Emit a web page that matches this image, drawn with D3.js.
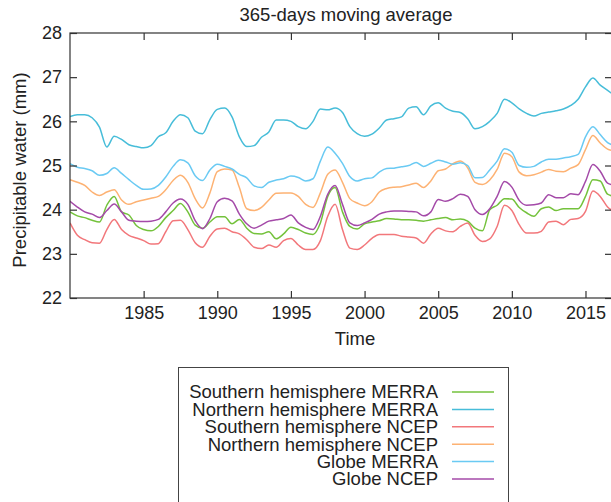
<!DOCTYPE html>
<html>
<head>
<meta charset="utf-8">
<script src="https://cdn.jsdelivr.net/npm/d3@7"></script>
<style>
  body { margin: 0; background: #fff; }
  svg { display: block; font-family: "Liberation Sans", Arial, sans-serif; }
  text { fill: #222; }
</style>
</head>
<body>
<svg id="chart" width="611" height="502"></svg>
<script>
const years = [
  1980, 1980.5, 1981, 1981.5, 1982, 1982.5, 1983, 1983.5, 1984, 1984.5,
  1985, 1985.5, 1986, 1986.5, 1987, 1987.5, 1988, 1988.5, 1989, 1989.5,
  1990, 1990.5, 1991, 1991.5, 1992, 1992.5, 1993, 1993.5, 1994, 1994.5,
  1995, 1995.5, 1996, 1996.5, 1997, 1997.5, 1998, 1998.5,
  1999, 1999.5, 2000, 2000.5, 2001, 2001.5, 2002, 2002.5, 2003, 2003.5,
  2004, 2004.5, 2005, 2005.5, 2006, 2006.5, 2007, 2007.5,
  2008, 2008.5, 2009, 2009.5, 2010, 2010.5, 2011, 2011.5, 2012, 2012.5,
  2013, 2013.5, 2014, 2014.5, 2015, 2015.5, 2016, 2016.5, 2017
];

const shMerra = [
  23.95, 23.86, 23.82, 23.76, 23.72, 24.10, 24.30, 23.95, 23.88, 23.64,
  23.55, 23.52, 23.62, 23.82, 23.98, 24.14, 23.95, 23.65, 23.58, 23.72,
  23.84, 23.84, 23.68, 23.78, 23.58, 23.46, 23.45, 23.50, 23.34, 23.45,
  23.60, 23.55, 23.47, 23.44, 23.70, 24.30, 24.50, 23.95,
  23.62, 23.56, 23.68, 23.72, 23.75, 23.80, 23.79, 23.77, 23.77, 23.76,
  23.74, 23.77, 23.80, 23.82, 23.77, 23.79, 23.74, 23.58,
  23.52, 24.00, 24.10, 24.25, 24.24, 24.05, 23.93, 23.85, 24.02, 24.06,
  23.98, 24.02, 24.02, 24.02, 24.30, 24.68, 24.65, 24.35, 24.30
];

const nhMerra = [
  26.11, 26.15, 26.15, 26.08, 25.87, 25.42, 25.66, 25.59, 25.47, 25.43,
  25.40, 25.45, 25.65, 25.74, 26.00, 26.15, 26.08, 25.78, 25.72, 26.04,
  26.27, 26.30, 26.10, 25.65, 25.43, 25.45, 25.64, 25.76, 26.03, 26.03,
  26.00, 25.88, 25.83, 26.00, 26.28, 26.26, 26.30, 26.20,
  25.88, 25.72, 25.66, 25.71, 25.85, 26.03, 26.06, 26.10, 26.30, 26.33,
  26.15, 26.35, 26.42, 26.30, 26.23, 26.20, 26.06, 25.83,
  25.88, 26.00, 26.18, 26.50, 26.42, 26.28, 26.18, 26.12, 26.18, 26.21,
  26.24, 26.28, 26.36, 26.50, 26.78, 26.98, 26.82, 26.70, 26.58
];

const shNcep = [
  23.70, 23.42, 23.32, 23.25, 23.24, 23.55, 23.78, 23.55, 23.42, 23.36,
  23.30, 23.22, 23.23, 23.50, 23.75, 23.76, 23.55, 23.25, 23.15, 23.40,
  23.56, 23.58, 23.50, 23.45, 23.32, 23.15, 23.12, 23.20, 23.15, 23.30,
  23.35, 23.20, 23.10, 23.10, 23.30, 23.85, 24.12, 23.55,
  23.13, 23.10, 23.20, 23.35, 23.44, 23.44, 23.44, 23.40, 23.38, 23.36,
  23.24, 23.45, 23.58, 23.52, 23.50, 23.62, 23.70, 23.42,
  23.28, 23.34, 23.62, 24.10, 23.98, 23.66, 23.47, 23.47, 23.51, 23.72,
  23.74, 23.66, 23.78, 23.80, 23.96, 24.42, 24.30, 24.06, 23.95
];

const nhNcep = [
  24.68, 24.62, 24.55, 24.40, 24.32, 24.40, 24.45, 24.22, 24.12, 24.18,
  24.22, 24.26, 24.30, 24.45, 24.66, 24.78, 24.62, 24.25, 24.04, 24.38,
  24.86, 24.92, 24.90, 24.50, 24.02, 23.98, 24.05, 24.22, 24.37, 24.38,
  24.38, 24.30, 24.12, 24.05, 24.38, 24.80, 24.90, 24.62,
  24.25, 24.15, 24.09, 24.18, 24.40, 24.48, 24.51, 24.52, 24.56, 24.60,
  24.50, 24.65, 24.88, 24.92, 25.04, 25.10, 24.95, 24.62,
  24.57, 24.67, 24.91, 25.28, 25.20, 24.85, 24.77, 24.79, 24.85, 24.91,
  24.87, 24.86, 24.94, 25.02, 25.36, 25.68, 25.51, 25.37, 25.33
];

const globeMerra = [
  25.04, 24.96, 24.93, 24.88, 24.78, 24.82, 24.95, 24.82, 24.68, 24.55,
  24.46, 24.47, 24.55, 24.74, 24.98, 25.13, 25.06, 24.77, 24.66, 24.90,
  25.03, 24.98, 24.92, 24.80, 24.72, 24.54, 24.50, 24.62, 24.67, 24.70,
  24.76, 24.73, 24.65, 24.70, 25.10, 25.42, 25.28, 25.05,
  24.75, 24.65, 24.70, 24.72, 24.85, 24.93, 24.94, 24.97, 25.00, 25.07,
  24.98, 25.05, 25.12, 25.08, 25.03, 25.06, 25.00, 24.72,
  24.73, 24.90, 25.10, 25.38, 25.30, 25.00, 24.96, 24.98, 25.08, 25.14,
  25.14, 25.17, 25.20, 25.25, 25.65, 25.88, 25.70, 25.52, 25.45
];

const globeNcep = [
  24.19, 24.06, 23.95, 23.90, 23.82, 23.98, 24.13, 23.95, 23.76, 23.74,
  23.73, 23.74, 23.78, 23.95, 24.15, 24.24, 24.12, 23.75, 23.57, 23.80,
  24.18, 24.26, 24.20, 23.90, 23.68, 23.58, 23.65, 23.74, 23.77, 23.80,
  23.88, 23.70, 23.60, 23.55, 23.85, 24.35, 24.55, 24.12,
  23.70, 23.64, 23.70, 23.78, 23.90, 23.95, 23.97, 23.97, 23.96, 23.95,
  23.86, 23.95, 24.23, 24.19, 24.25, 24.35, 24.30, 24.00,
  23.89, 24.02, 24.30, 24.64, 24.51, 24.21, 24.10, 24.11, 24.15, 24.34,
  24.27, 24.27, 24.36, 24.34, 24.64, 25.02, 24.87, 24.60, 24.55
];

const seriesNames = [
  'Southern hemisphere MERRA',
  'Northern hemisphere MERRA',
  'Southern hemisphere NCEP',
  'Northern hemisphere NCEP',
  'Globe MERRA',
  'Globe NCEP'
];
const seriesValues = [shMerra, nhMerra, shNcep, nhNcep, globeMerra, globeNcep];
const seriesColors = ['#74c23c', '#47bdd9', '#f2777b', '#fdb273', '#6acaf3', '#a44aa8'];

const xTicks = [1985, 1990, 1995, 2000, 2005, 2010, 2015];
const yTicks = [22, 23, 24, 25, 26, 27, 28];

const plotLeft = 70, plotRight = 612, plotTop = 33, plotBottom = 298;
const fontSize = 18.5;

const svg = d3.select('#chart');

const x = d3.scaleLinear().domain([1980, 2016.8]).range([plotLeft, plotRight]);
const y = d3.scaleLinear().domain([22, 28]).range([plotBottom, plotTop]);

svg.append('defs').append('clipPath').attr('id', 'plot-clip')
  .append('rect')
  .attr('x', plotLeft).attr('y', plotTop)
  .attr('width', plotRight - plotLeft).attr('height', plotBottom - plotTop);

// lines
const line = d3.line()
  .x((d, i) => x(years[i]))
  .y(d => y(d))
  .curve(d3.curveMonotoneX);

svg.append('g')
  .attr('clip-path', 'url(#plot-clip)')
  .selectAll('path')
  .data(seriesValues)
  .join('path')
  .attr('d', d => line(d))
  .attr('fill', 'none')
  .attr('stroke', (d, i) => seriesColors[i])
  .attr('stroke-width', 1.5)
  .attr('stroke-linejoin', 'round');

// axes (ticks point inward, mirrored on top/right)
const styleAxis = g => {
  g.select('.domain').remove();
  g.selectAll('.tick line').attr('stroke', '#333').attr('stroke-width', 1.2);
  g.selectAll('.tick text').attr('font-size', 18).attr('fill', '#222');
};

svg.append('g')
  .attr('transform', `translate(0,${plotBottom})`)
  .call(d3.axisBottom(x).tickValues(xTicks).tickFormat(d3.format('d')).tickSize(-7).tickPadding(8))
  .call(styleAxis);

svg.append('g')
  .attr('transform', `translate(0,${plotTop})`)
  .call(d3.axisTop(x).tickValues(xTicks).tickFormat('').tickSize(-7))
  .call(styleAxis);

svg.append('g')
  .attr('transform', `translate(${plotLeft},0)`)
  .call(d3.axisLeft(y).tickValues(yTicks).tickFormat(d3.format('d')).tickSize(-7).tickPadding(8))
  .call(styleAxis);

svg.append('g')
  .attr('transform', `translate(${plotRight},0)`)
  .call(d3.axisRight(y).tickValues(yTicks).tickFormat('').tickSize(-7))
  .call(styleAxis);

svg.append('rect')
  .attr('x', plotLeft).attr('y', plotTop)
  .attr('width', plotRight - plotLeft).attr('height', plotBottom - plotTop)
  .attr('fill', 'none')
  .attr('stroke', '#333')
  .attr('stroke-width', 1.2);

// titles
svg.append('text')
  .attr('x', 346).attr('y', 21)
  .attr('text-anchor', 'middle')
  .attr('font-size', fontSize)
  .text('365-days moving average');

svg.append('text')
  .attr('x', 355).attr('y', 345)
  .attr('text-anchor', 'middle')
  .attr('font-size', fontSize)
  .text('Time');

svg.append('text')
  .attr('transform', 'translate(26,170) rotate(-90)')
  .attr('text-anchor', 'middle')
  .attr('font-size', fontSize)
  .text('Precipitable water (mm)');

// legend
const legend = svg.append('g');
legend.append('rect')
  .attr('x', 178.5).attr('y', 367.5)
  .attr('width', 330).attr('height', 150)
  .attr('fill', '#fff')
  .attr('stroke', '#444')
  .attr('stroke-width', 1);

const rows = legend.selectAll('g.row')
  .data(seriesNames)
  .join('g')
  .attr('class', 'row')
  .attr('transform', (d, i) => `translate(0,${392 + i * 17.4})`);

rows.append('text')
  .attr('x', 438)
  .attr('dy', '0.35em')
  .attr('text-anchor', 'end')
  .attr('font-size', fontSize)
  .text(d => d);

rows.append('line')
  .attr('x1', 452).attr('x2', 494)
  .attr('stroke', (d, i) => seriesColors[i])
  .attr('stroke-width', 1.5);
</script>
</body>
</html>
